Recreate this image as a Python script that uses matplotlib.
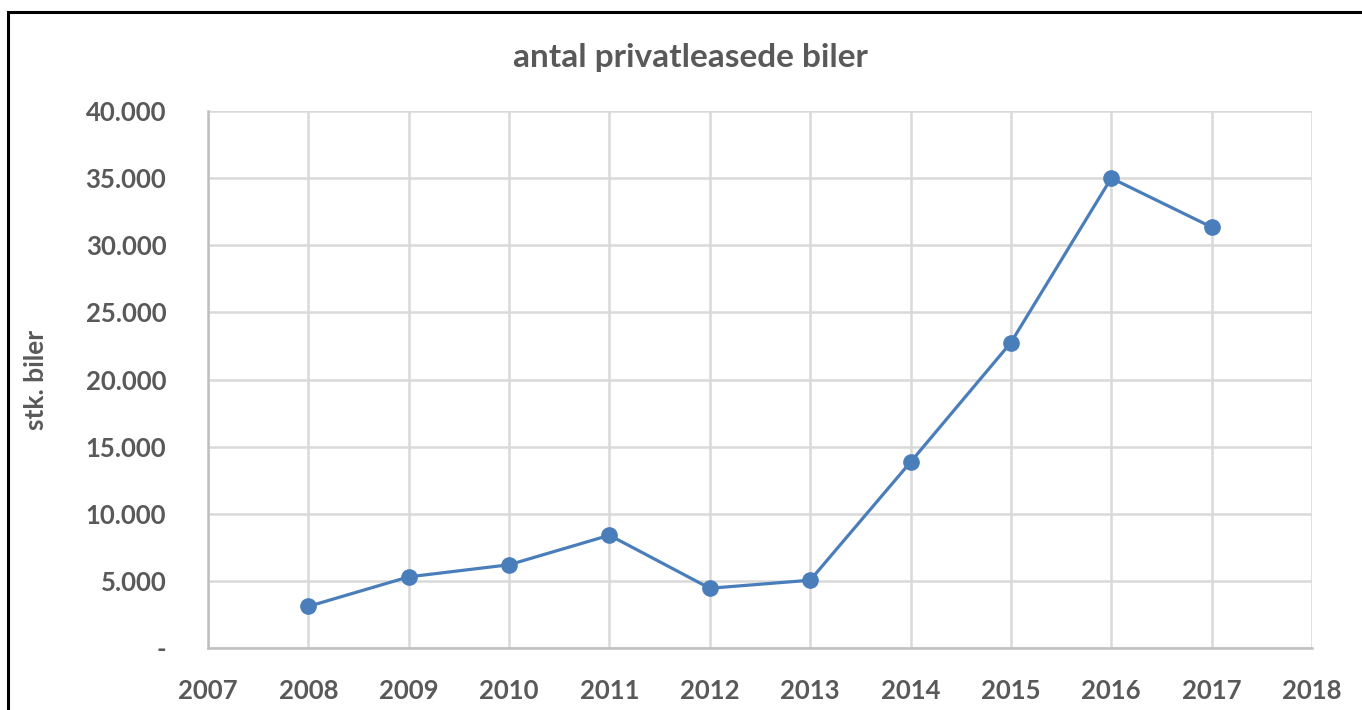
import matplotlib.pyplot as plt
from matplotlib.patches import Rectangle
from matplotlib.ticker import FuncFormatter

years = [2008, 2009, 2010, 2011, 2012, 2013, 2014, 2015, 2016, 2017]
cars = [3100, 5300, 6200, 8400, 4450, 5050, 13850, 22750, 35000, 31350]

plt.rcParams['font.family'] = ['Lato', 'DejaVu Sans']
grey = '#595959'

fig = plt.figure(figsize=(13.62, 7.10), dpi=100)
ax = fig.add_axes([208/1362, 1 - 648/710, (1312-208)/1362, (648-111)/710])

ax.plot(years, cars, color='#4a7ebb', lw=2.3, marker='o', markersize=11, zorder=3)

ax.set_xlim(2007, 2018)
ax.set_ylim(0, 40000)
ax.set_xticks(range(2007, 2019))
ax.set_yticks(range(0, 40001, 5000))

def fmt(v, pos):
    if v == 0:
        return '-'
    return f'{int(v):,}'.replace(',', '.')
ax.yaxis.set_major_formatter(FuncFormatter(fmt))

ax.grid(True, color='#d9d9d9', lw=1.8, zorder=0)
for s in ['top', 'right']:
    ax.spines[s].set_visible(False)
for s in ['left', 'bottom']:
    ax.spines[s].set_color('#bfbfbf')
    ax.spines[s].set_linewidth(1.8)
ax.tick_params(length=0, labelsize=18.5, labelcolor=grey)
ax.tick_params(axis='x', pad=22)
ax.tick_params(axis='y', pad=30)
for lab in ax.get_xticklabels() + ax.get_yticklabels():
    lab.set_fontweight('bold')

ax.set_ylabel('stk. biler', fontsize=19, fontweight='bold', color=grey, labelpad=27)
fig.text(0.507, 1 - 57/710, 'antal privatleasede biler', ha='center', va='center',
         fontsize=24, fontweight='bold', color=grey)

# black frame, cut off on the right and bottom
fig.patches.append(Rectangle((8/1362, -0.1), 1.2, 1 - 12/710 + 0.1, transform=fig.transFigure,
                             fill=False, edgecolor='black', lw=2.2))

fig.savefig('out.png', dpi=100)
